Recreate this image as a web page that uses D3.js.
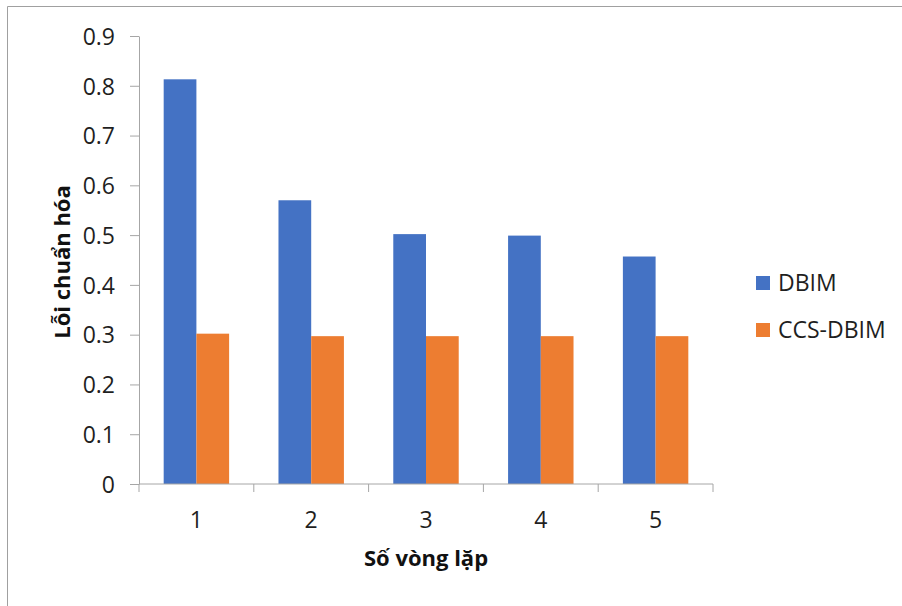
<!DOCTYPE html>
<html>
<head>
    <meta charset="utf-8">
    <title>Lỗi chuẩn hóa theo số vòng lặp</title>
    <script src="https://d3js.org/d3.v7.min.js"></script>
    <style>
        body { margin: 0; background: #fff; }
        svg { display: block; font-family: "Open Sans", sans-serif; }
        .axis path, .axis line { stroke: #a6a6a6; }
        .axis text { font-size: 23px; fill: #1f1f1f; font-family: "Open Sans", sans-serif; }
        .axis-title { font-size: 22px; font-weight: bold; fill: #111; }
        .legend text { font-size: 23px; fill: #1f1f1f; }
    </style>
</head>
<body>
    <svg width="902" height="606"></svg>
    <script>
        // data
        var iterations = ["1", "2", "3", "4", "5"];
        var seriesNames = ["DBIM", "CCS-DBIM"];
        var dbim = [0.813, 0.570, 0.502, 0.499, 0.457];
        var ccsDbim = [0.302, 0.297, 0.297, 0.297, 0.297];
        var yTicks = [0, 0.1, 0.2, 0.3, 0.4, 0.5, 0.6, 0.7, 0.8, 0.9];

        var svg = d3.select("svg"),
            margin = {top: 36, right: 189, bottom: 122, left: 139},
            width = +svg.attr("width") - margin.left - margin.right,
            height = +svg.attr("height") - margin.top - margin.bottom;

        // outer frame (top and left edges visible)
        svg.append("path")
            .attr("d", "M7.5,606 V6.5 H902")
            .attr("fill", "none")
            .attr("stroke", "#a0a0a0");

        var rows = iterations.map(function(it, i) {
            return {iter: it, values: [
                {name: seriesNames[0], value: dbim[i]},
                {name: seriesNames[1], value: ccsDbim[i]}
            ]};
        });

        var x0 = d3.scaleBand().domain(iterations).range([0, width]).padding(0);
        var barW = x0.bandwidth() * 0.285;
        var x1 = d3.scaleBand().domain(seriesNames)
            .range([x0.bandwidth() / 2 - barW, x0.bandwidth() / 2 + barW]);
        var y = d3.scaleLinear().domain([0, 0.9]).range([height, 0]);
        var color = d3.scaleOrdinal().domain(seriesNames).range(["#4472c4", "#ed7d31"]);

        var g = svg.append("g").attr("transform", "translate(" + margin.left + "," + margin.top + ")");

        g.append("g")
            .selectAll("g")
            .data(rows)
            .enter().append("g")
                .attr("transform", d => `translate(${x0(d.iter)},0)`)
            .selectAll("rect")
            .data(d => d.values)
            .enter().append("rect")
                .attr("x", d => x1(d.name))
                .attr("y", d => y(d.value))
                .attr("width", x1.bandwidth())
                .attr("height", d => height - y(d.value))
                .style("fill", d => color(d.name));

        // y axis
        var yAxis = g.append("g")
            .attr("class", "axis")
            .call(d3.axisLeft(y).tickValues(yTicks).tickSize(9).tickSizeOuter(0).tickPadding(15)
                .tickFormat(d => d === 0 ? "0" : d3.format(".1f")(d)));
        yAxis.selectAll("text").attr("dy", "0.36em");

        // x axis: ticks sit on the band boundaries
        var xAxis = g.append("g")
            .attr("class", "axis")
            .attr("transform", `translate(0,${height})`);
        xAxis.append("line")
            .attr("x1", 0).attr("x2", width);
        xAxis.selectAll(".sep")
            .data(iterations.concat(["end"]))
            .enter().append("line")
                .attr("class", "sep")
                .attr("x1", (d, i) => i * x0.step())
                .attr("x2", (d, i) => i * x0.step())
                .attr("y1", 0).attr("y2", 8);
        xAxis.selectAll(".lbl")
            .data(iterations)
            .enter().append("text")
                .attr("class", "lbl")
                .attr("x", d => x0(d) + x0.bandwidth() / 2)
                .attr("y", 44)
                .attr("text-anchor", "middle")
                .text(d => d);

        // axis titles
        svg.append("text")
            .attr("class", "axis-title")
            .attr("x", margin.left + width / 2)
            .attr("y", 566)
            .attr("text-anchor", "middle")
            .text("Số vòng lặp");

        svg.append("text")
            .attr("class", "axis-title")
            .attr("transform", "translate(70,262) rotate(-90)")
            .attr("text-anchor", "middle")
            .text("Lỗi chuẩn hóa");

        // legend
        var legend = svg.append("g")
            .attr("class", "legend")
            .attr("transform", "translate(756,276)")
            .selectAll("g")
            .data(seriesNames)
            .enter().append("g")
                .attr("transform", (d, i) => `translate(0,${i * 47})`);

        legend.append("rect")
            .attr("width", 14)
            .attr("height", 14)
            .style("fill", color);

        legend.append("text")
            .attr("x", 22)
            .attr("y", 15)
            .text(d => d);
    </script>
</body>
</html>
